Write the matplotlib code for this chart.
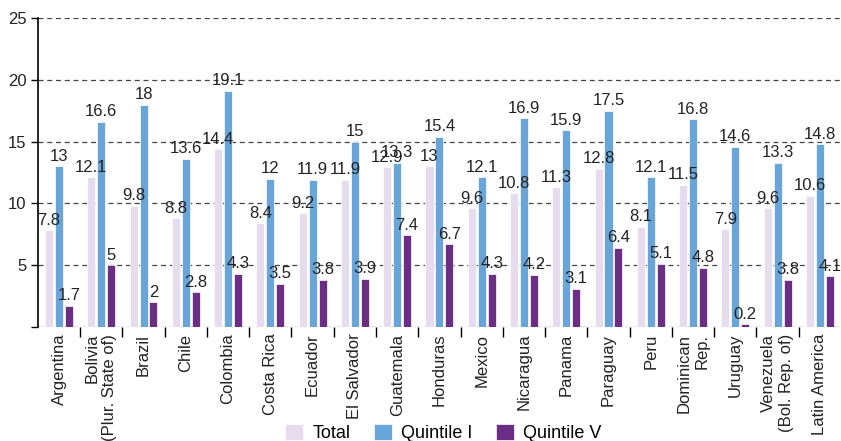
import matplotlib
matplotlib.use("Agg")
import matplotlib.pyplot as plt
import numpy as np
from matplotlib.ticker import FixedLocator

plt.rcParams['font.family'] = ['Liberation Sans', 'DejaVu Sans']

countries = ["Argentina", "Bolivia\n(Plur. State of)", "Brazil", "Chile", "Colombia",
             "Costa Rica", "Ecuador", "El Salvador", "Guatemala", "Honduras", "Mexico",
             "Nicaragua", "Panama", "Paraguay", "Peru", "Dominican\nRep.", "Uruguay",
             "Venezuela\n(Bol. Rep. of)", "Latin America"]
total = [7.8, 12.1, 9.8, 8.8, 14.4, 8.4, 9.2, 11.9, 12.9, 13, 9.6, 10.8, 11.3, 12.8, 8.1, 11.5, 7.9, 9.6, 10.6]
quintile1 = [13, 16.6, 18, 13.6, 19.1, 12, 11.9, 15, 13.3, 15.4, 12.1, 16.9, 15.9, 17.5, 12.1, 16.8, 14.6, 13.3, 14.8]
quintile5 = [1.7, 5, 2, 2.8, 4.3, 3.5, 3.8, 3.9, 7.4, 6.7, 4.3, 4.2, 3.1, 6.4, 5.1, 4.8, 0.2, 3.8, 4.1]
series_names = ["Total", "Quintile I", "Quintile V"]
colors = ["#e6dcee", "#6aa5d9", "#6b2e84"]

fig = plt.figure(figsize=(8.41, 4.41), dpi=100)
ax = fig.add_axes([0.045, 0.259, 0.955, 0.700])

x = np.arange(len(countries))
w = 0.19
offs = [-0.235, 0, 0.235]
for vals, off, c, name in zip([total, quintile1, quintile5], offs, colors, series_names):
    ax.bar(x + off, vals, width=w, color=c, edgecolor='white', linewidth=0.5, label=name, zorder=3)
    for xi, v in zip(x + off, vals):
        ax.text(xi, v + 0.2, f"{v:g}", ha='center', va='bottom', fontsize=12, color='#222222', zorder=4)

ax.set_xlim(-0.5, len(countries) - 0.5)
ax.set_ylim(0, 25)
ax.set_yticks([0, 5, 10, 15, 20, 25])
ax.set_yticklabels(["", "5", "10", "15", "20", "25"], fontsize=12, color='#222222')
ax.yaxis.grid(True, linestyle=(0, (4, 3)), color='#444444', linewidth=0.9, zorder=0)
ax.tick_params(axis='y', length=5, width=1, direction='out', pad=3)

ax.set_xticks(x)
ax.set_xticklabels(countries, rotation=90, fontsize=12, color='#222222', multialignment='right')
ax.tick_params(axis='x', which='major', length=0, pad=5)
ax.xaxis.set_minor_locator(FixedLocator(np.arange(0.5, len(countries) - 0.5, 1)))
ax.tick_params(axis='x', which='minor', length=7, width=1, direction='out')

for s in ['top', 'right', 'bottom']:
    ax.spines[s].set_visible(False)
ax.spines['left'].set_linewidth(1.2)

handles, labels = ax.get_legend_handles_labels()
fig.legend(handles, labels, loc='lower center', bbox_to_anchor=(0.527, -0.04), ncol=3, frameon=False,
           fontsize=13, handlelength=1.0, handleheight=1.0, columnspacing=1.3, handletextpad=0.5)

fig.savefig("out.png", dpi=100)
